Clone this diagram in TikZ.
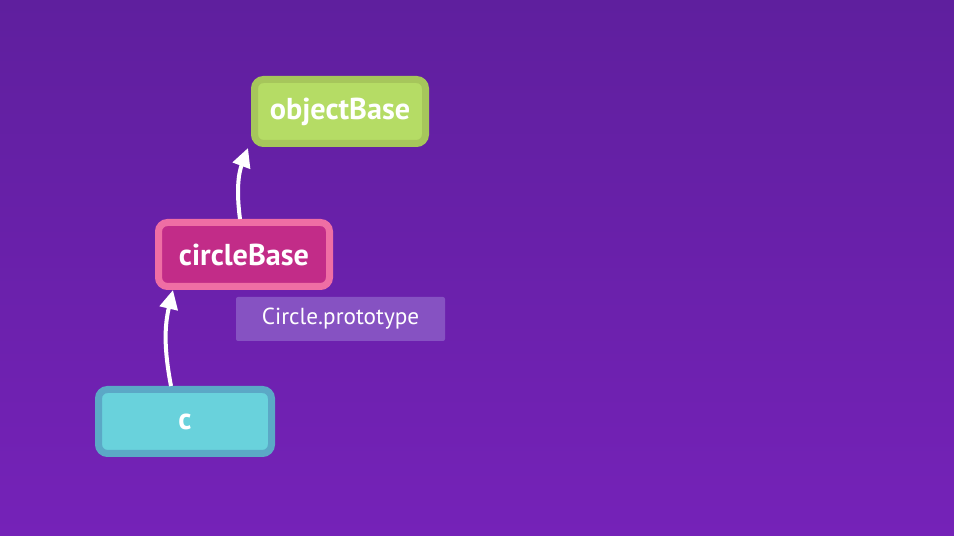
\documentclass[tikz,border=0pt]{standalone}
\usepackage{fontspec}
\setmainfont{PT Sans}
\usetikzlibrary{arrows.meta}

\definecolor{bgtop}{HTML}{5F1F9E}
\definecolor{bgbot}{HTML}{7522B8}
\definecolor{greenline}{HTML}{A6C65B}
\definecolor{greenfill}{HTML}{B5DC65}
\definecolor{pinkline}{HTML}{EF6EA4}
\definecolor{pinkfill}{HTML}{C22C88}
\definecolor{cyanline}{HTML}{5BA8C6}
\definecolor{cyanfill}{HTML}{69D2DC}
\definecolor{protofill}{HTML}{8652C2}

\tikzset{
  objbox/.style={draw, line width=0.14cm, rounded corners=0.18cm,
    minimum width=3.42cm, minimum height=1.28cm, text=white,
    font=\fontsize{17.2}{20}\selectfont\bfseries},
  protobox/.style={fill=protofill, rounded corners=0.04cm,
    minimum width=4.18cm, minimum height=0.88cm, text=white,
    font=\fontsize{13.2}{15}\selectfont},
  link/.style={white, line width=0.08cm,
    -{Triangle[length=0.38cm,width=0.36cm]}}
}

\begin{document}
\begin{tikzpicture}
\shade[top color=bgtop, bottom color=bgbot] (0,0) rectangle (19.08,10.72);
\useasboundingbox (0,0) rectangle (19.08,10.72);
% boxes
\node[objbox, draw=greenline, fill=greenfill] (objectBase) at (6.80,8.49) {objectBase};
\node[objbox, draw=pinkline, fill=pinkfill] (circleBase) at (4.88,5.63) {circleBase};
\node[objbox, draw=cyanline, fill=cyanfill, minimum width=3.46cm] (c) at (3.70,2.29) {c};
\node[protobox] (proto) at (6.81,4.34) {Circle.prototype};
% links
\draw[link] ([xshift=-0.28cm]c.north) to[bend left=12] ([xshift=-1.42cm]circleBase.south);
\draw[link] ([xshift=-0.08cm]circleBase.north) to[bend left=14] ([xshift=-0.06cm,yshift=-0.02cm]objectBase.south west);
\end{tikzpicture}
\end{document}
